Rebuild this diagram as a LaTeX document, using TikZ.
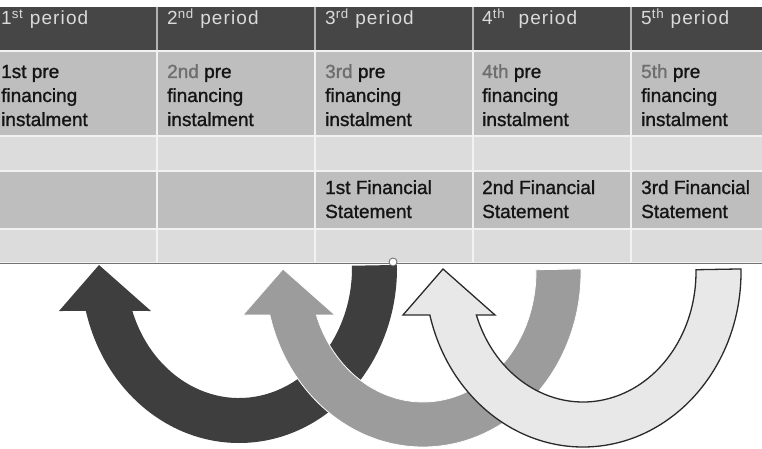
\documentclass[tikz,border=0pt]{standalone}
\usepackage{fontspec}
\setmainfont{Liberation Sans}
\usetikzlibrary{calc}
\definecolor{hdrbg}{HTML}{464646}
\definecolor{hdrtext}{HTML}{DADADA}
\definecolor{rowA}{HTML}{BEBEBE}
\definecolor{rowB}{HTML}{DCDCDC}
\definecolor{gapcol}{HTML}{F2F2F2}
\definecolor{ordgray}{HTML}{6E6E6E}
\definecolor{arrdark}{HTML}{3E3E3E}
\definecolor{arrmid}{HTML}{9C9C9C}
\definecolor{arrlight}{HTML}{E8E8E8}
\definecolor{arrline}{HTML}{2A2A2A}
\newcommand{\myuarrow}[3]{%
  \path[#3] (#1,-#2) ++(1:158 and 175)
    arc[start angle=1, end angle=-165.78, x radius=158, y radius=175]
    -- ({#1-180},{-#2-43}) -- ({#1-140},{-#2+3}) -- ({#1-88},{-#2-43})
    -- ($(#1,-#2)+(-160.69:113 and 130)$)
    arc[start angle=-160.69, end angle=1, x radius=113, y radius=130]
    -- cycle;}
\newcommand{\celllines}[1]{\vtop{#1}}
\tikzset{
  hdtext/.style={anchor=base west, inner sep=0pt, text=hdrtext,
    font=\fontsize{19}{24}\selectfont\addfontfeature{LetterSpace=6}},
  bodytext/.style={anchor=base west, inner sep=0pt, text=black!92,
    font=\fontsize{19}{24}\selectfont\addfontfeature{FakeBold=1.2}},
  darkarrow/.style={fill=arrdark},
  midarrow/.style={fill=arrmid, draw=white, line width=0.8pt},
  lightarrow/.style={fill=arrlight, draw=arrline, line width=1.3pt, line join=miter},
}
\begin{document}
\begin{tikzpicture}[x=1pt,y=1pt]
\useasboundingbox (0,0) rectangle (762,-449);
\fill[white] (0,0) rectangle (762,-449);
% arrows
\myuarrow{239}{268}{darkarrow}
\myuarrow{423}{272}{midarrow}
\myuarrow{583}{272}{lightarrow}
% table background
\fill[gapcol] (0,-50) rectangle (762,-263);
\fill[hdrbg] (0,-7) rectangle (762,-50);
\fill[rowA] (0,-52) rectangle (762,-135);
\fill[rowB] (0,-137) rectangle (762,-170);
\fill[rowA] (0,-172) rectangle (762,-228);
\fill[rowB] (0,-230) rectangle (762,-262);
\foreach \cx in {157,315,473,631}{
  \draw[gapcol, line width=1.8pt] (\cx,-52) -- (\cx,-262);
  \draw[black!30, line width=1.2pt] (\cx,-7) -- (\cx,-50);
}
\draw[black!55, line width=1pt] (0,-263.5) -- (762,-263.5);
\node[circle, draw=black!60, fill=white, line width=0.8pt, minimum width=7pt, minimum height=8pt, inner sep=0pt] (handle) at (393,-262) {};
% header
\node[hdtext] (h1) at (1,-25) {1\textsuperscript{st} period};
\node[hdtext] (h2) at (167,-25) {2\textsuperscript{nd} period};
\node[hdtext] (h3) at (325,-25) {3\textsuperscript{rd} period};
\node[hdtext] (h4) at (482,-25) {4\textsuperscript{th}\hspace{7pt} period};
\node[hdtext] (h5) at (641,-25) {5\textsuperscript{th} period};
% pre financing row
\node[bodytext] (p1) at (1,-78) {\celllines{\hbox{1st pre}\hbox{financing}\hbox{instalment}}};
\node[bodytext] (p2) at (167,-78) {\celllines{\hbox{\textcolor{ordgray}{2nd} pre}\hbox{financing}\hbox{instalment}}};
\node[bodytext] (p3) at (325,-78) {\celllines{\hbox{\textcolor{ordgray}{3rd} pre}\hbox{financing}\hbox{instalment}}};
\node[bodytext] (p4) at (482,-78) {\celllines{\hbox{\textcolor{ordgray}{4th} pre}\hbox{financing}\hbox{instalment}}};
\node[bodytext] (p5) at (641,-78) {\celllines{\hbox{\textcolor{ordgray}{5th} pre}\hbox{financing}\hbox{instalment}}};
% financial statement row
\node[bodytext] (f3) at (325,-194) {\celllines{\hbox{1st Financial}\hbox{Statement}}};
\node[bodytext] (f4) at (482,-194) {\celllines{\hbox{2nd Financial}\hbox{Statement}}};
\node[bodytext] (f5) at (641,-194) {\celllines{\hbox{3rd Financial}\hbox{Statement}}};
\end{tikzpicture}
\end{document}
